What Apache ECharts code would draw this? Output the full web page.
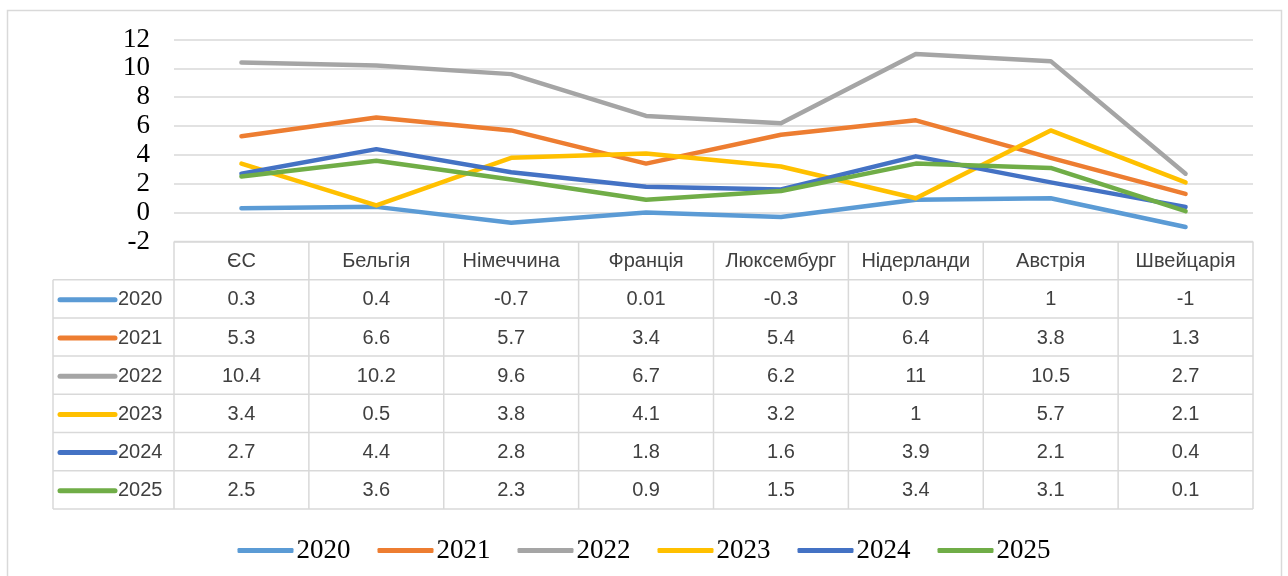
<!DOCTYPE html>
<html>
<head>
<meta charset="utf-8">
<script src="https://cdn.jsdelivr.net/npm/echarts@6/dist/echarts.min.js"></script>
<style>
html,body{margin:0;padding:0;background:#fff;}
#c{width:1288px;height:576px;}
</style>
</head>
<body>
<div id="c"></div>
<script>
const categories = ['ЄС','Бельгія','Німеччина','Франція','Люксембург','Нідерланди','Австрія','Швейцарія'];
const years = ['2020','2021','2022','2023','2024','2025'];
const v2020 = [0.3, 0.4, -0.7, 0.01, -0.3, 0.9, 1, -1];
const v2021 = [5.3, 6.6, 5.7, 3.4, 5.4, 6.4, 3.8, 1.3];
const v2022 = [10.4, 10.2, 9.6, 6.7, 6.2, 11, 10.5, 2.7];
const v2023 = [3.4, 0.5, 3.8, 4.1, 3.2, 1, 5.7, 2.1];
const v2024 = [2.7, 4.4, 2.8, 1.8, 1.6, 3.9, 2.1, 0.4];
const v2025 = [2.5, 3.6, 2.3, 0.9, 1.5, 3.4, 3.1, 0.1];
const seriesValues = [v2020, v2021, v2022, v2023, v2024, v2025];
const colors = ['#5B9BD5','#ED7D31','#A5A5A5','#FFC000','#4472C4','#70AD47'];

const chart = echarts.init(document.getElementById('c'), null, {renderer:'canvas'});

const option = {
  animation: false,
  backgroundColor: '#fff',
  color: colors,
  grid: {left: 174, right: 35, top: 39.5, bottom: 334.5, containLabel: false},
  legend: {
    data: years,
    top: 532,
    left: 'center',
    icon: 'roundRect',
    itemWidth: 56,
    itemHeight: 5,
    itemGap: 27,
    textStyle: {fontFamily: '"Liberation Serif", "Times New Roman", serif', fontSize: 27, color: '#000', padding: [0,0,0,-2]}
  },
  xAxis: {
    type: 'category',
    data: categories,
    boundaryGap: true,
    axisLine: {show: false},
    axisTick: {show: false},
    axisLabel: {show: false},
    splitLine: {show: false}
  },
  yAxis: {
    type: 'value',
    min: -2, max: 12, interval: 2,
    axisLine: {show: false},
    axisTick: {show: false},
    axisLabel: {fontFamily: '"Liberation Serif", "Times New Roman", serif', fontSize: 27, color: '#000', margin: 24, padding: [4,0,0,0]},
    splitLine: {lineStyle: {color: '#d9d9d9', width: 1.5}}
  },
  series: years.map((y, i) => ({
    name: y,
    type: 'line',
    data: seriesValues[i],
    symbol: 'none',
    showSymbol: false,
    lineStyle: {width: 4.5, color: colors[i], cap: 'round', join: 'round'},
    itemStyle: {color: colors[i]}
  }))
};
chart.setOption(option);

// Data table under the plot, aligned to the category axis
const xa = chart.convertToPixel({xAxisIndex: 0}, 0);
const xb = chart.convertToPixel({xAxisIndex: 0}, 1);
const colW = xb - xa;
const tLeft = xa - colW / 2;
const tRight = tLeft + colW * categories.length;
const tTop = chart.convertToPixel({yAxisIndex: 0}, -2);
const rowH = 38.2;
const labelColW = 121;
const lineColor = '#d9d9d9';
const txtFont = {fontFamily: '"Liberation Sans", Arial, sans-serif', fontSize: 20, fill: '#404040'};
const els = [];
function hline(x1, x2, y) {
  els.push({type: 'line', shape: {x1, y1: y, x2, y2: y}, style: {stroke: lineColor, lineWidth: 1.5}, z: 10});
}
function vline(x, y1, y2) {
  els.push({type: 'line', shape: {x1: x, y1, x2: x, y2}, style: {stroke: lineColor, lineWidth: 1.5}, z: 10});
}
function text(t, x, y, align) {
  els.push({type: 'text', style: Object.assign({text: t, x, y, align: align || 'center', verticalAlign: 'middle'}, txtFont), z: 11});
}
const nRows = years.length;
const tBottom = tTop + rowH * (nRows + 1);
hline(tLeft, tRight, tTop);
for (let r = 1; r <= nRows + 1; r++) hline(tLeft - labelColW, tRight, tTop + rowH * r);
for (let c = 0; c <= categories.length; c++) vline(tLeft + colW * c, tTop, tBottom);
vline(tLeft - labelColW, tTop + rowH, tBottom);
categories.forEach((c, i) => text(c, tLeft + colW * (i + 0.5), tTop + rowH * 0.5 + 1));
years.forEach((y, r) => {
  const cy = tTop + rowH * (r + 1.5) + 1;
  els.push({type: 'line', shape: {x1: tLeft - labelColW + 7, y1: cy, x2: tLeft - 59, y2: cy},
    style: {stroke: colors[r], lineWidth: 5, lineCap: 'round'}, z: 11});
  text(y, tLeft - 56, cy, 'left');
  seriesValues[r].forEach((v, i) => text(String(v), tLeft + colW * (i + 0.5), cy));
});
// outer chart border
els.push({type: 'rect', shape: {x: 7.5, y: 10.5, width: 1274, height: 600}, style: {fill: 'none', stroke: lineColor, lineWidth: 1.5}, z: 0});
chart.setOption({graphic: els});
</script>
</body>
</html>
